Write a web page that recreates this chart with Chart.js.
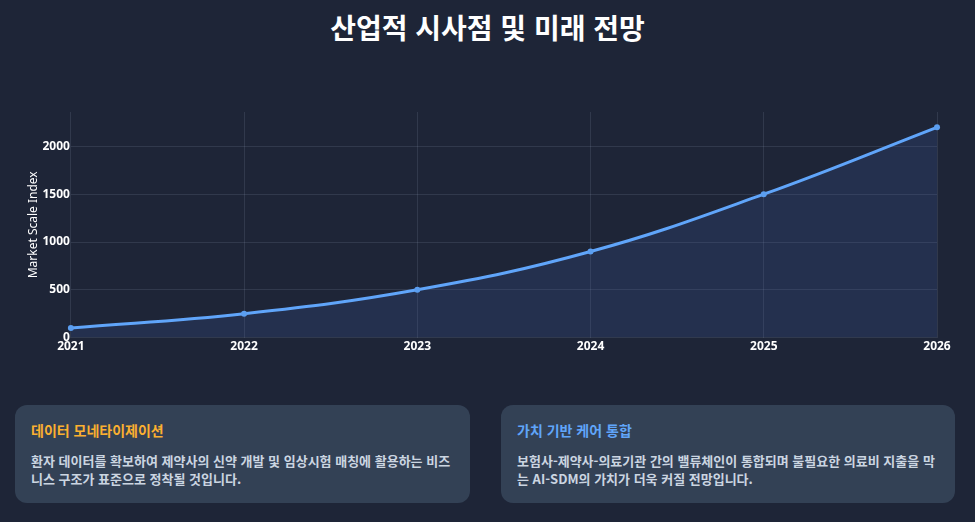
<!DOCTYPE html>
<html lang="ko">
<head>
<meta charset="utf-8">
<script src="https://cdn.jsdelivr.net/npm/chart.js@4.4.0/dist/chart.umd.min.js"></script>
<style>
  html, body { margin:0; padding:0; background:#1e2537; width:975px; height:522px; overflow:hidden;
    font-family: "Noto Sans CJK KR", "Noto Sans", sans-serif; }
  h1 { position:absolute; left:0; top:0; width:975px; margin:0; text-align:center; color:#fff;
    font-size:28px; font-weight:700; line-height:54px; }
  #wrap { position:absolute; left:0; top:90px; width:975px; height:266px; }
  .card { position:absolute; top:405px; height:98px; background:#334155; border-radius:12px; box-sizing:border-box; padding:15px 16px; }
  .card h3 { margin:0 0 11px 0; font-size:14px; font-weight:700; line-height:21px; }
  .card p { margin:0; color:#cbd5e1; font-size:13px; font-weight:700; line-height:18px; }
</style>
</head>
<body>
<h1>산업적 시사점 및 미래 전망</h1>
<div id="wrap"><canvas id="c"></canvas></div>
<div class="card" style="left:15px;width:455px;">
  <h3 style="color:#fbb030;">데이터 모네타이제이션</h3>
  <p>환자 데이터를 확보하여 제약사의 신약 개발 및 임상시험 매칭에 활용하는 비즈니스 구조가 표준으로 정착될 것입니다.</p>
</div>
<div class="card" style="left:501px;width:454px;">
  <h3 style="color:#60a5fa;">가치 기반 케어 통합</h3>
  <p>보험사-제약사-의료기관 간의 밸류체인이 통합되며 불필요한 의료비 지출을 막는 AI-SDM의 가치가 더욱 커질 전망입니다.</p>
</div>
<script>
const years = ["2021", "2022", "2023", "2024", "2025", "2026"];
const marketIndex = [100, 250, 500, 900, 1500, 2200];
const yTicks = [0, 500, 1000, 1500, 2000];
const yTitle = "Market Scale Index";

new Chart(document.getElementById('c'), {
  type: 'line',
  data: {
    labels: years,
    datasets: [{
      data: marketIndex,
      borderColor: '#60a5fa',
      backgroundColor: 'rgba(59,96,170,0.2)',
      borderWidth: 3,
      fill: true,
      tension: 0.4,
      pointRadius: 3,
      pointBorderWidth: 0,
      pointBackgroundColor: '#5b9ef0'
    }]
  },
  options: {
    responsive: true,
    maintainAspectRatio: false,
    animation: false,
    layout: { padding: { left: 25, right: 38, top: 22, bottom: 0 } },
    plugins: { legend: { display: false }, tooltip: { enabled: false } },
    scales: {
      x: {
        offset: false,
        grid: { color: 'rgba(148,163,184,0.17)', drawTicks: false },
        border: { display: false },
        ticks: { color: '#ffffff', font: { family: 'Noto Sans', size: 12, weight: 'bold' }, padding: 2, maxRotation: 0 }
      },
      y: {
        min: 0,
        max: 2360,
        afterBuildTicks: (scale) => { scale.ticks = yTicks.map(v => ({ value: v })); },
        grid: { color: 'rgba(148,163,184,0.17)', drawTicks: false },
        border: { display: false },
        ticks: { color: '#ffffff', font: { family: 'Noto Sans', size: 12, weight: 'bold' }, padding: 1,
                 callback: (v) => String(v) },
        title: { display: true, text: yTitle, color: '#ffffff', font: { family: 'Noto Sans', size: 12 }, padding: 1 }
      }
    }
  }
});
</script>
</body>
</html>
